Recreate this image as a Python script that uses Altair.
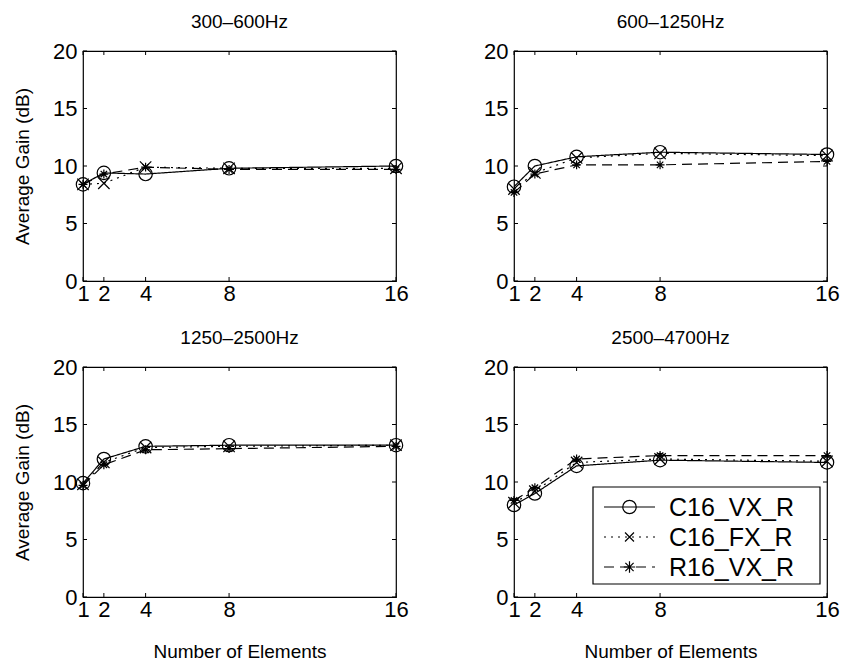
import altair as alt
import pandas as pd

elements = [1, 2, 4, 8, 16]
bands = ["300–600Hz", "600–1250Hz", "1250–2500Hz", "2500–4700Hz"]
series_names = ["C16_VX_R", "C16_FX_R", "R16_VX_R"]

c16_vx_r = [[8.4, 9.4, 9.3, 9.8, 10.0],
            [8.2, 10.0, 10.8, 11.2, 11.0],
            [9.9, 12.0, 13.1, 13.2, 13.2],
            [8.0, 9.0, 11.4, 11.9, 11.7]]
c16_fx_r = [[8.4, 8.5, 9.9, 9.8, 9.8],
            [8.0, 9.4, 10.7, 11.1, 10.9],
            [9.8, 11.7, 13.0, 13.1, 13.2],
            [8.2, 9.2, 11.7, 12.0, 11.8]]
r16_vx_r = [[8.4, 9.3, 9.9, 9.7, 9.7],
            [7.7, 9.3, 10.1, 10.1, 10.4],
            [9.7, 11.5, 12.8, 12.9, 13.1],
            [8.4, 9.5, 12.0, 12.3, 12.3]]

x_ticks = [1, 2, 4, 8, 16]
y_ticks = [0, 5, 10, 15, 20]

FONT = "Liberation Sans"
W, H = 313, 230
X_SHAPE = "M-1,-1L1,1M-1,1L1,-1"
STAR_SHAPE = "M-1,0L1,0M0,-1L0,1M-0.72,-0.72L0.72,0.72M-0.72,0.72L0.72,-0.72"
shapes = ["circle", X_SHAPE, STAR_SHAPE]
sizes = [180, 80, 130]
dashes = [[1, 0], [2, 5], [10, 6]]

all_series = [c16_vx_r, c16_fx_r, r16_vx_r]


def panel(i, show_ytitle, show_xtitle, with_legend):
    rows = []
    for name, vals in zip(series_names, all_series):
        for e, v in zip(elements, vals[i]):
            rows.append({"elements": e, "gain": v, "series": name})
    df = pd.DataFrame(rows)

    xenc = alt.X("elements:Q",
                 scale=alt.Scale(domain=[1, 16], nice=False, zero=False),
                 axis=alt.Axis(values=x_ticks, title="Number of Elements" if show_xtitle else None,
                               labelPadding=2, titlePadding=22, labelFlush=False))
    yenc = alt.Y("gain:Q",
                 scale=alt.Scale(domain=[0, 20], nice=False),
                 axis=alt.Axis(values=y_ticks, title="Average Gain (dB)" if show_ytitle else None,
                               labelPadding=6, titlePadding=20))

    base = alt.Chart(df)
    lines = base.mark_line(color="black", strokeWidth=1.2).encode(
        x=xenc, y=yenc,
        detail="series:N",
        strokeDash=alt.StrokeDash("series:N", scale=alt.Scale(domain=series_names, range=dashes), legend=None),
    )
    points = base.mark_point(color="black", filled=False, strokeWidth=1.2, opacity=1).encode(
        x=xenc, y=yenc,
        shape=alt.Shape("series:N", scale=alt.Scale(domain=series_names, range=shapes), legend=None),
        size=alt.Size("series:N", scale=alt.Scale(domain=series_names, range=sizes), legend=None),
    )

    tx = pd.DataFrame({"t": x_ticks})
    ty = pd.DataFrame({"t": y_ticks})
    xs = alt.Scale(domain=[1, 16], nice=False, zero=False)
    ys = alt.Scale(domain=[0, 20], nice=False)
    tick_layers = [
        alt.Chart(tx).mark_rule(color="black", strokeWidth=1).encode(
            x=alt.X("t:Q", scale=xs), y=alt.value(H), y2=alt.value(H - 4)),
        alt.Chart(tx).mark_rule(color="black", strokeWidth=1).encode(
            x=alt.X("t:Q", scale=xs), y=alt.value(0), y2=alt.value(4)),
        alt.Chart(ty).mark_rule(color="black", strokeWidth=1).encode(
            y=alt.Y("t:Q", scale=ys), x=alt.value(0), x2=alt.value(4)),
        alt.Chart(ty).mark_rule(color="black", strokeWidth=1).encode(
            y=alt.Y("t:Q", scale=ys), x=alt.value(W), x2=alt.value(W - 4)),
    ]

    layers = [lines, points] + tick_layers

    if with_legend:
        bx0, bx1, by0, by1 = 79, 306, 120, 217
        one = pd.DataFrame({"k": [0]})
        layers.append(alt.Chart(one).mark_rect(fill="white", stroke="black", strokeWidth=1.2).encode(
            x=alt.value(bx0), x2=alt.value(bx1), y=alt.value(by0), y2=alt.value(by1)))
        for j, name in enumerate(series_names):
            ry = 140 + 30 * j
            row = pd.DataFrame({"label": [name]})
            layers.append(alt.Chart(row).mark_rule(color="black", strokeWidth=1.2, strokeDash=dashes[j]).encode(
                x=alt.value(90), x2=alt.value(141), y=alt.value(ry)))
            layers.append(alt.Chart(row).mark_point(color="black", filled=False, strokeWidth=1.2,
                                                    shape=shapes[j], size=sizes[j], opacity=1).encode(
                x=alt.value(115.5), y=alt.value(ry)))
            layers.append(alt.Chart(row).mark_text(align="left", baseline="middle", font=FONT,
                                                   fontSize=25, color="black").encode(
                x=alt.value(155), y=alt.value(ry + 1), text="label:N"))

    return alt.layer(*layers).properties(
        width=W, height=H,
        title=alt.TitleParams(bands[i], fontSize=19, font=FONT, fontWeight="normal",
                              offset=8, color="black"),
    )


p1 = panel(0, True, False, False)
p2 = panel(1, False, False, False)
p3 = panel(2, True, True, False)
p4 = panel(3, False, True, True)

chart = alt.concat(p1, p2, p3, p4, columns=2, spacing={"row": 86, "column": 118}, bounds="flush").configure(
    padding={"left": 12, "top": 12, "right": 5, "bottom": 5},
    font=FONT,
).configure_view(
    stroke="black", strokeWidth=1.2
).configure_axis(
    grid=False, domain=False, ticks=False,
    labelFont=FONT, labelFontSize=22, labelColor="black",
    titleFont=FONT, titleFontSize=19, titleColor="black", titleFontWeight="normal",
)

chart.save("out.html", embed_options={"renderer": "svg", "actions": False})
